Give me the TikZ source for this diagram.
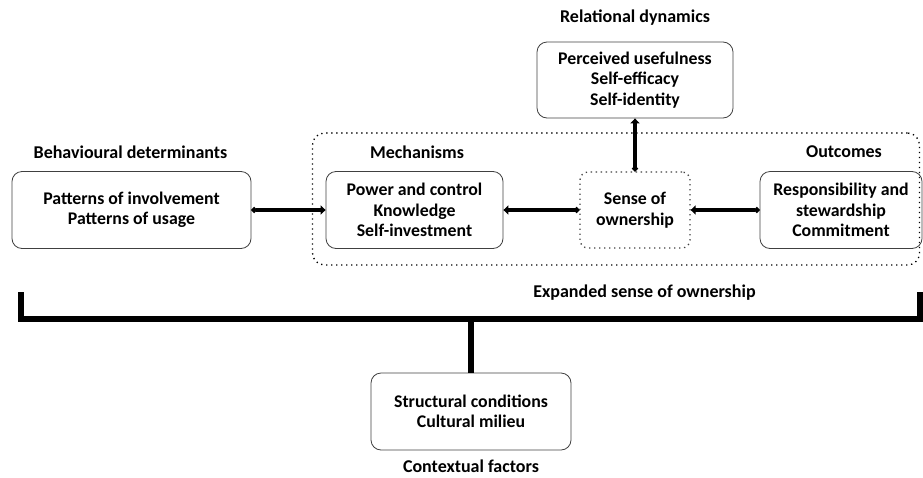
\documentclass[tikz,border=0pt]{standalone}
\usepackage{fontspec}
\setmainfont{Carlito}
\usetikzlibrary{arrows.meta}

\begin{document}
\begin{tikzpicture}[x=1pt,y=-1pt,
    box/.style={draw=black!75,line width=0.8pt,rounded corners=10pt,align=center,
      font=\fontsize{17.8}{20.5}\selectfont\bfseries,inner sep=0pt},
    dots/.style={draw,line width=1.3pt,dash pattern=on 1.3pt off 3.7pt,rounded corners=12pt},
    head/.style={font=\fontsize{18}{20}\selectfont\bfseries,inner sep=1pt},
    conn/.style={line width=4.5pt,{Circle[length=5.5pt]}-{Triangle[length=5pt,width=9pt]}},
    bracket/.style={line width=5.5pt}]
  \useasboundingbox (0,0) rectangle (923,477);

  % expanded sense of ownership
  \node[dots,minimum width=607pt,minimum height=132pt] (expanded) at (616,199) {};
  \node[head] (explabel) at (644.5,293) {Expanded sense of ownership};

  \node[head] (behavhead) at (130.5,152) {Behavioural determinants};
  \node[box,minimum width=239pt,minimum height=77pt] (behav) at (131.5,210)
    {Patterns of involvement\\Patterns of usage};

  \node[head] (mechhead) at (417,152) {Mechanisms};
  \node[box,minimum width=177pt,minimum height=77pt] (mech) at (414.5,210)
    {Power and control\\Knowledge\\Self-investment};

  \node[box,draw=none,dots,rounded corners=8pt,minimum width=110pt,minimum height=76pt] (sense) at (635,210)
    {Sense of\\ownership};

  \node[head] (outhead) at (844,152) {Outcomes};
  \node[box,minimum width=162pt,minimum height=77pt] (out) at (841,210)
    {Responsibility and\\stewardship\\Commitment};

  \node[head] (relhead) at (635,18) {Relational dynamics};
  \node[box,minimum width=196pt,minimum height=76pt] (rel) at (635,80)
    {Perceived usefulness\\Self-efficacy\\Self-identity};

  \node[box,minimum width=200pt,minimum height=77pt] (ctx) at (471,411.5)
    {Structural conditions\\Cultural milieu};
  \node[head] (ctxhead) at (471,466) {Contextual factors};

  \draw[conn] (behav) -- (mech);
  \draw[conn] (sense) -- (mech);
  \draw[conn] (out) -- (sense);
  \draw[conn] (sense) -- (rel);

  % bracket
  \coordinate (bl) at (21,319);
  \coordinate (br) at (920,319);
  \draw[bracket] ([yshift=27pt]bl) -- (bl) -- (br) -- ([yshift=27pt]br);
  \draw[bracket] (ctx) -- (ctx |- bl);
\end{tikzpicture}
\end{document}
